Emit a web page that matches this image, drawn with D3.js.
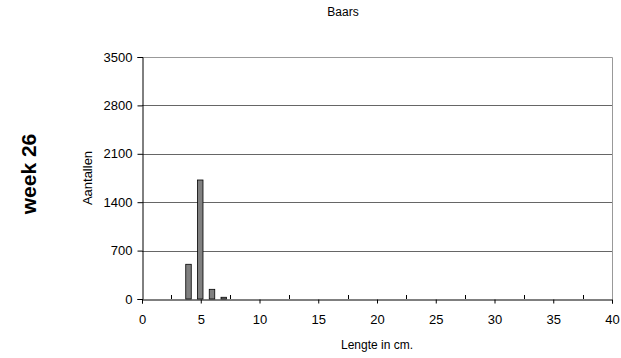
<!DOCTYPE html>
<html><head><meta charset="utf-8">
<script src="https://cdn.jsdelivr.net/npm/d3@7"></script>
<style>body{margin:0;background:#fff}svg{display:block;font-family:"Liberation Sans",Arial,sans-serif}</style>
</head><body>
<script>
const lengths = [4, 5, 6, 7];
const counts = [502, 1721, 140, 25];
const yTicks = [0, 700, 1400, 2100, 2800, 3500];
const xTicks = [0, 5, 10, 15, 20, 25, 30, 35, 40];
const xMinorTicks = [2.5, 7.5, 12.5, 17.5, 22.5, 27.5, 32.5, 37.5];

const W = 621, H = 358;
const FONT = "Liberation Sans, Arial, sans-serif";
const svg = d3.select("body").append("svg").attr("width", W).attr("height", H);
const x = d3.scaleLinear().domain([0, 40]).range([142, 612]);
const y = d3.scaleLinear().domain([0, 3500]).range([299, 57]);

// plot border (top/right)
svg.append("path").attr("d", `M${x(0)},${Math.round(y(3500))+0.5}H${Math.round(x(40))+0.5}V${y(0)}`).attr("fill","none").attr("stroke","#999").attr("stroke-width",1);
// gridlines
svg.selectAll(".grid").data(yTicks.filter(d=>d>0 && d<3500)).join("line")
  .attr("x1", x(0)).attr("x2", x(40)).attr("y1", d=>Math.round(y(d))+0.5).attr("y2", d=>Math.round(y(d))+0.5)
  .attr("stroke", "#666").attr("stroke-width",1);

// bars
const bw = 5.5;
svg.selectAll(".bar").data(lengths).join("rect")
  .attr("x", (d)=>x(d)-bw/2-0.5).attr("width", bw)
  .attr("y", (d,i)=>y(counts[i])).attr("height", (d,i)=>y(0)-y(counts[i]))
  .attr("fill","#808080").attr("stroke","#000").attr("stroke-width",0.8);

// y axis
const ya = svg.append("g").attr("transform", `translate(${x(0)+0.5},0)`)
  .call(d3.axisLeft(y).tickValues(yTicks).tickFormat(d3.format("d")).tickSize(5).tickPadding(5));
ya.select(".domain").attr("stroke","#000");
ya.selectAll("text").attr("font-size", 13).attr("fill","#000").attr("font-family",FONT);

// x axis
const xa = svg.append("g").attr("transform", `translate(0,${y(0)+0.5})`)
  .call(d3.axisBottom(x).tickValues(xTicks).tickFormat(d3.format("d")).tickSize(4).tickPadding(11));
xa.select(".domain").attr("stroke","#000");
xa.selectAll("text").attr("font-size", 13).attr("fill","#000").attr("font-family",FONT);
svg.selectAll(".minor").data(xMinorTicks).join("line")
  .attr("x1", d=>Math.round(x(d))+0.5).attr("x2", d=>Math.round(x(d))+0.5)
  .attr("y1", y(0)).attr("y2", y(0)-4).attr("stroke","#000");

// texts
svg.append("text").attr("x", 343).attr("y", 16).attr("text-anchor","middle").attr("font-size",12).text("Baars");
svg.append("text").attr("x", 377).attr("y", 349).attr("text-anchor","middle").attr("font-size",12).text("Lengte in cm.");
svg.append("text").attr("transform","translate(92,178) rotate(-90)").attr("text-anchor","middle").attr("font-size",13).text("Aantallen");
svg.append("text").attr("transform","translate(36,174) rotate(-90)").attr("text-anchor","middle").attr("font-size",21).attr("font-weight","bold").text("week 26");
</script>
</body></html>
